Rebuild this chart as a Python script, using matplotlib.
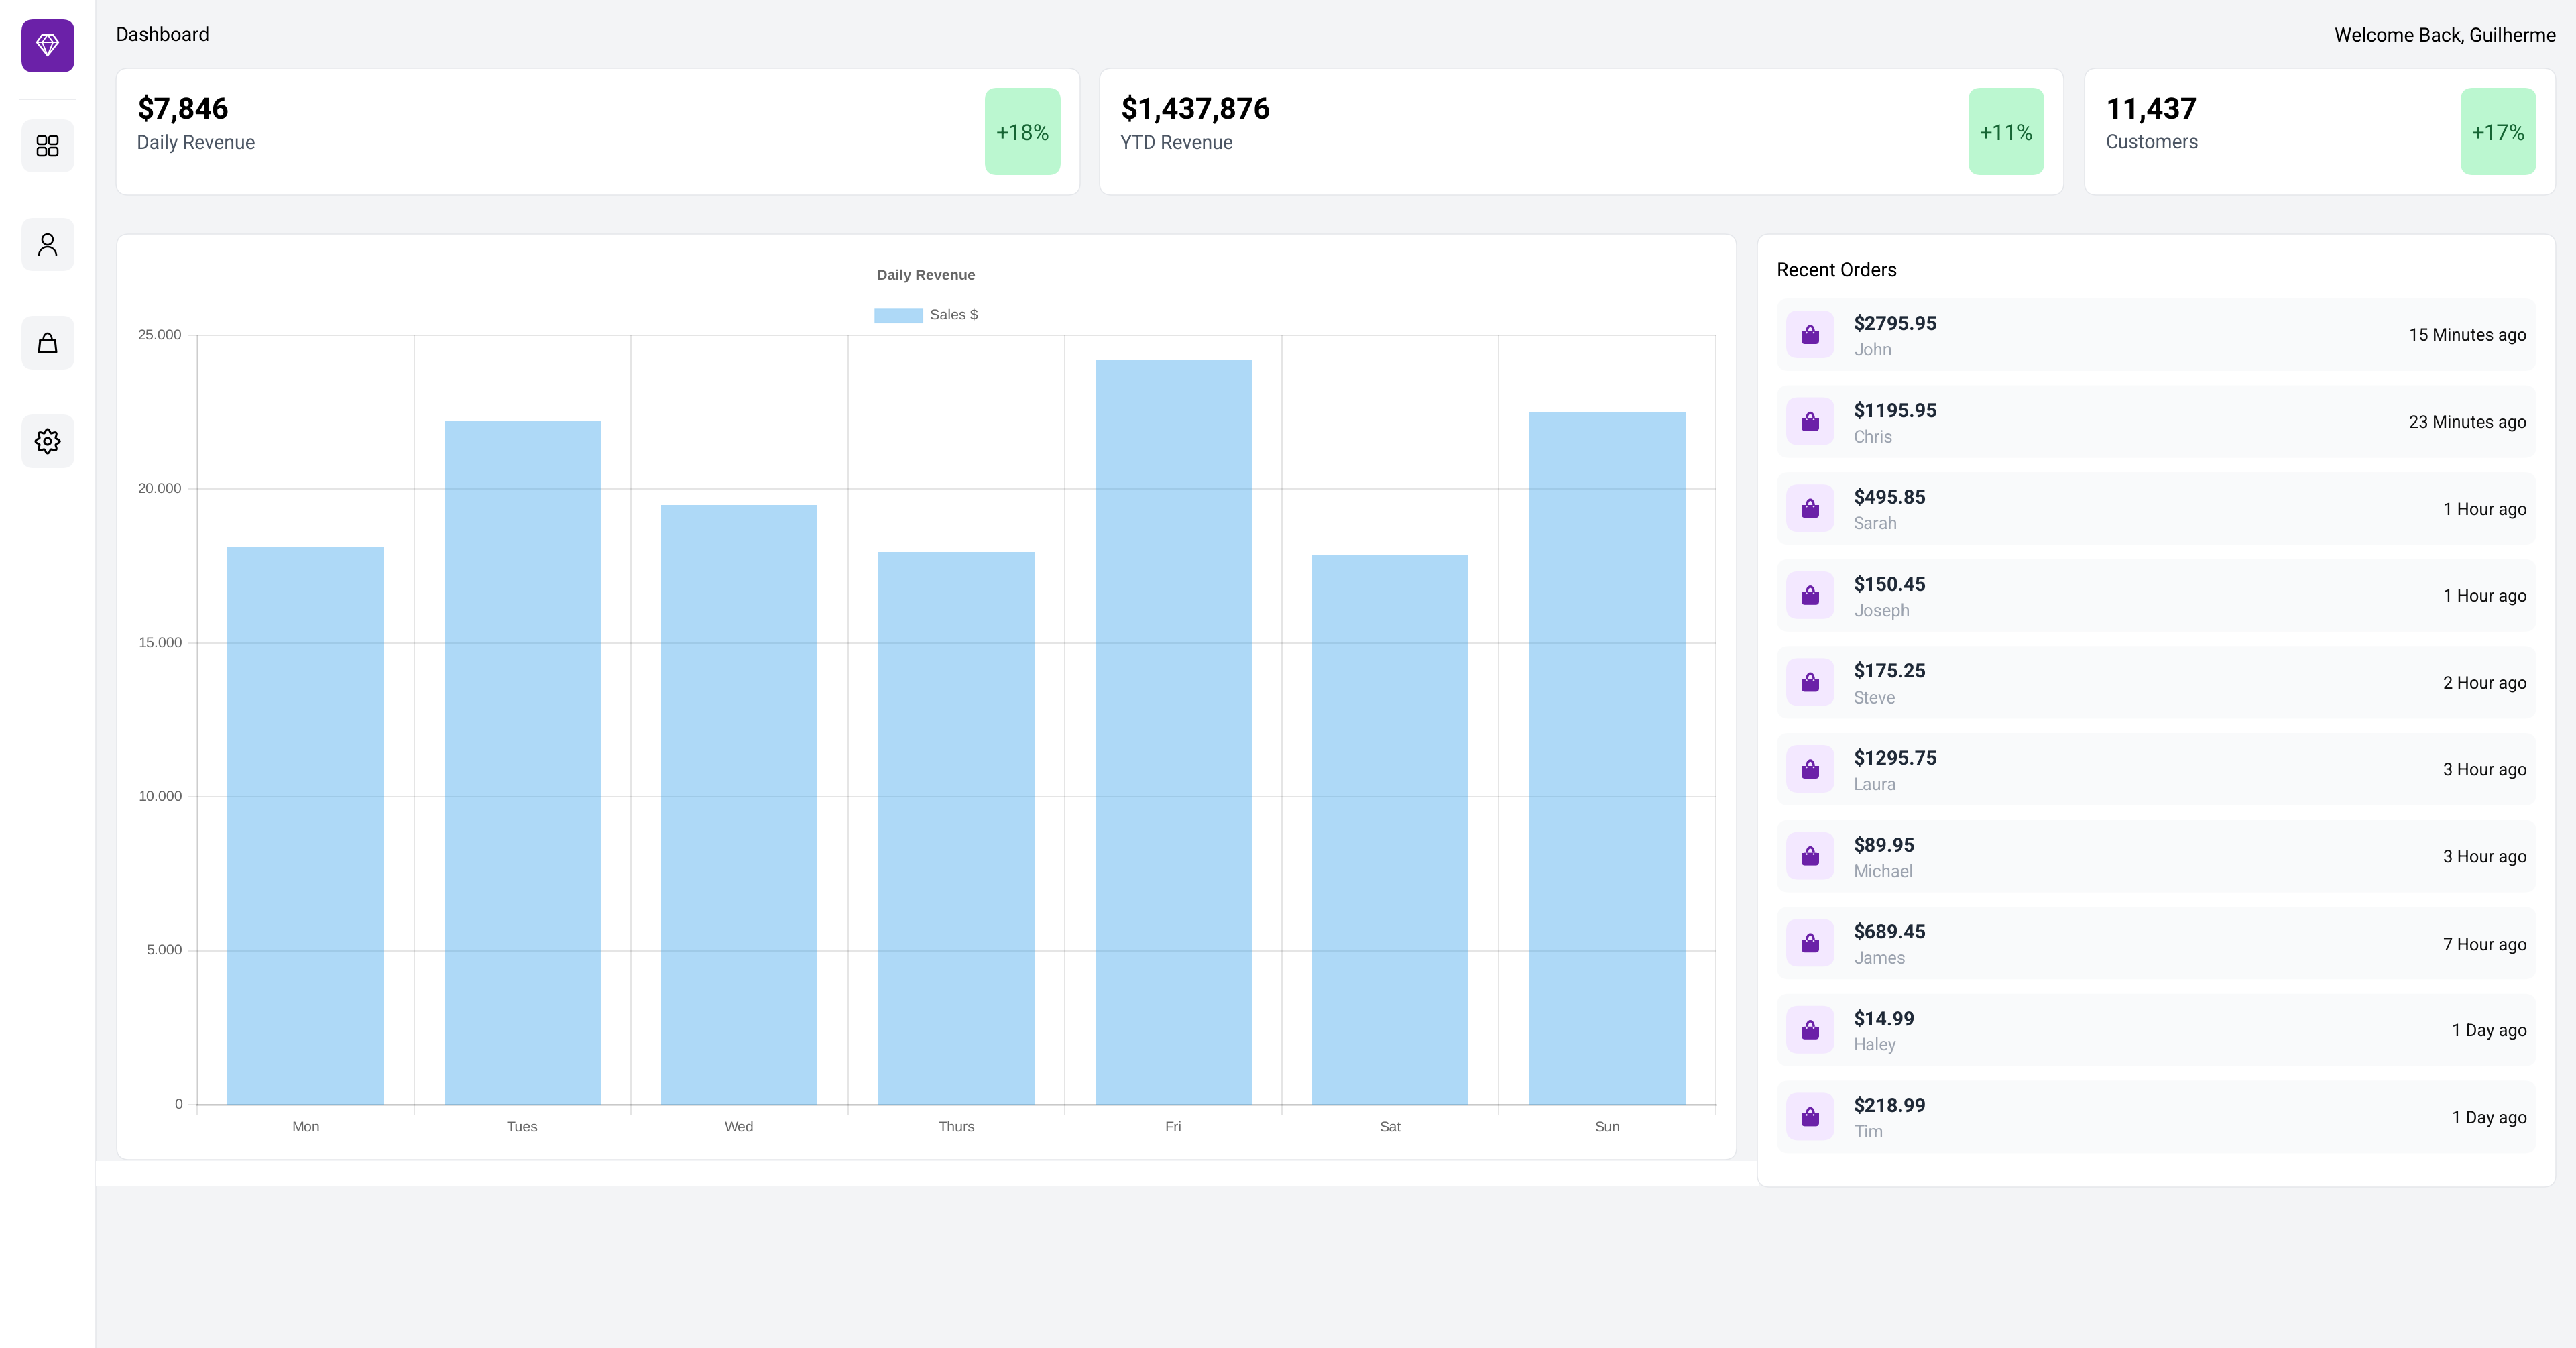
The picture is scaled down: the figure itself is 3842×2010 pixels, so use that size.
import numpy as np
import matplotlib
matplotlib.use('Agg')
import matplotlib.pyplot as plt
from matplotlib.patches import FancyBboxPatch, Rectangle, Circle, Arc
from matplotlib.transforms import ScaledTranslation

W, H = 3842, 2010

days = ['Mon', 'Tues', 'Wed', 'Thurs', 'Fri', 'Sat', 'Sun']
sales = [18130, 22220, 19490, 17950, 24190, 17850, 22490]
y_ticks = [0, 5000, 10000, 15000, 20000, 25000]
y_labels = ['0', '5.000', '10.000', '15.000', '20.000', '25.000']

card_values = ['$7,846', '$1,437,876', '11,437']
card_labels = ['Daily Revenue', 'YTD Revenue', 'Customers']
card_changes = ['+18%', '+11%', '+17%']

amounts = ['$2795.95', '$1195.95', '$495.85', '$150.45', '$175.25',
           '$1295.75', '$89.95', '$689.45', '$14.99', '$218.99']
names = ['John', 'Chris', 'Sarah', 'Joseph', 'Steve',
         'Laura', 'Michael', 'James', 'Haley', 'Tim']
times = ['15 Minutes ago', '23 Minutes ago', '1 Hour ago', '1 Hour ago', '2 Hour ago',
         '3 Hour ago', '3 Hour ago', '7 Hour ago', '1 Day ago', '1 Day ago']

UI_FONT = 'Roboto'
CHART_FONT = 'Liberation Sans'
PX = 0.72  # px to points at dpi 100
plt.rcParams['text.hinting'] = 'none'

fig = plt.figure(figsize=(W / 100, H / 100), dpi=100, facecolor='#f3f4f6')

# whole-page layer in pixel coordinates
bg = fig.add_axes([0, 0, 1, 1])
bg.set_xlim(0, W)
bg.set_ylim(H, 0)
bg.axis('off')


def box(x0, y0, x1, y1, r, fc, ec='none', lw=0, z=1):
    p = FancyBboxPatch((x0, y0), x1 - x0, y1 - y0, boxstyle=f'round,pad=0,rounding_size={r}',
                       fc=fc, ec=ec, lw=lw * PX, zorder=z)
    bg.add_patch(p)


def label(x, y, s, size, color='black', weight='normal', ha='left', va='baseline', font=UI_FONT):
    bg.text(x, y, s, fontsize=size * PX, color=color, fontweight=weight, ha=ha, va=va, family=font, zorder=5)


def stroke(xs, ys, color='black', lw=3, z=4):
    bg.plot(xs, ys, color=color, lw=lw * PX, solid_capstyle='round', solid_joinstyle='round', zorder=z)


# sidebar and the white strip under the chart
bg.add_patch(Rectangle((0, 0), 143, H, fc='white', ec='none', zorder=0.5))
bg.plot([143, 143], [0, H], color='#e5e7eb', lw=1.5 * PX, zorder=0.6)
bg.add_patch(Rectangle((143, 1731), 2480, 37, fc='white', ec='none', zorder=0.7))

box(32, 29, 111, 108, 18, '#6b21a8')
bg.plot([29, 113], [148, 148], color='#e5e7eb', lw=1.5 * PX, zorder=2)
for top, bottom in [(178, 257), (325, 404), (471, 551), (618, 698)]:
    box(32, top, 111, bottom, 18, '#f3f4f6')

# logo diamond
stroke([63, 79, 87, 71, 55, 63], [52, 52, 63, 83, 63, 52], 'white', 2.5)
stroke([55, 87], [63, 63], 'white', 2)
stroke([63, 71, 79], [63, 83, 63], 'white', 2)
stroke([63, 71, 79], [63, 52, 63], 'white', 2)

# dashboard icon
for x in (56, 73):
    for y in (203, 220):
        box(x, y, x + 13, y + 12, 3, 'none', 'black', 2.5, z=4)

# user icon
bg.add_patch(Circle((71, 357), 8, fc='none', ec='black', lw=2.5 * PX, zorder=4))
bg.add_patch(Arc((71, 381), 26, 26, theta1=180, theta2=360, ec='black', lw=2.5 * PX, zorder=4))

# orders icon
stroke([60, 82, 84, 58, 60], [507, 507, 525, 525, 507], 'black', 3)
bg.add_patch(Arc((71, 507), 13, 20, theta1=180, theta2=360, ec='black', lw=2.5 * PX, zorder=4))

# settings icon
ang = np.linspace(0, 2 * np.pi, 200)
gear = 15.5 + 2.5 * np.cos(8 * ang)
stroke(71 + gear * np.cos(ang), 658 + gear * np.sin(ang), 'black', 3)
bg.add_patch(Circle((71, 658), 5, fc='none', ec='black', lw=3 * PX, zorder=4))

label(173, 62, 'Dashboard', 29)
label(3813, 62, 'Welcome Back, Guilherme', 28.5, ha='right')

# stat cards
card_x = [(173, 1611), (1640, 3078), (3109, 3812)]
for (x0, x1), val, lab, chg in zip(card_x, card_values, card_labels, card_changes):
    box(x0, 102, x1, 291, 18, 'white', '#e5e7eb', 1.5)
    label(x0 + 31, 177, val, 44, weight='bold')
    label(x0 + 31, 222, lab, 28.5, color='#4b5563')
    box(x1 - 142, 131, x1 - 29, 261, 18, '#bbf7d0')
    label(x1 - 85.5, 210, chg, 33, color='#166534', ha='center')

# chart card
box(174, 349, 2590, 1729, 18, 'white', '#e5e7eb', 1.5)

label(1381.5, 411, 'Daily Revenue', 21.5, color='#666666', weight='bold', ha='center', va='center', font=CHART_FONT)
bg.add_patch(Rectangle((1304, 460), 72, 21, fc=(54 / 255, 162 / 255, 235 / 255, 0.4),
                       ec=(54 / 255, 162 / 255, 235 / 255, 0.1), lw=1, zorder=2))
label(1387, 471, 'Sales $', 21.5, color='#666666', va='center', font=CHART_FONT)

# recent orders panel
box(2621, 349, 3812, 1770, 18, 'white', '#e5e7eb', 1.5)
label(2650, 413, 'Recent Orders', 28.5)

for i, (amount, name, when) in enumerate(zip(amounts, names, times)):
    top = 445 + i * 129.6
    box(2650, top, 3783, top + 108, 18, '#f9fafb')
    box(2664, top + 18, 2736, top + 89, 18, '#f3e8ff', z=2)
    box(2687, top + 49, 2713, top + 68, 5, '#6b21a8', z=3)
    bg.add_patch(Rectangle((2687, top + 49), 26, 8, fc='#6b21a8', ec='none', zorder=3))
    bg.add_patch(Arc((2700, top + 49), 10, 16, theta1=180, theta2=360, ec='#6b21a8', lw=3.5 * PX, zorder=3))
    bg.add_patch(Circle((2694.5, top + 51), 1.3, fc='#f3e8ff', ec='none', zorder=4))
    bg.add_patch(Circle((2705, top + 51), 1.3, fc='#f3e8ff', ec='none', zorder=4))
    label(2765, top + 47, amount, 29, color='#1f2937', weight='bold')
    label(2765, top + 85, name, 25.5, color='#9ca3af')
    label(3769, top + 64, when, 25.5, color='#111111', ha='right')

# the bar chart itself
ax = fig.add_axes([294 / W, 1 - 1647 / H, 2265 / W, 1147 / H], facecolor='none')
pos = np.arange(len(days)) + 0.5
ax.bar(pos, sales, width=0.72, color=(54 / 255, 162 / 255, 235 / 255, 0.4), zorder=3)
ax.set_axisbelow(True)
ax.set_xlim(0, len(days))
ax.set_ylim(0, 25000)
ax.set_xticks(np.arange(len(days) + 1))
ax.set_xticklabels([])
ax.set_xticks(pos, minor=True)
ax.set_xticklabels(days, minor=True, family=CHART_FONT, fontsize=21.5 * PX, color='#666666')
ax.set_yticks(y_ticks)
ax.set_yticklabels(y_labels, family=CHART_FONT, fontsize=21.5 * PX, color='#666666')
ax.grid(True, which='major', color='black', alpha=0.1, lw=2 * PX)
ax.tick_params(axis='x', which='major', length=16 * PX, width=2 * PX, color=(0, 0, 0, 0.1))
ax.tick_params(axis='x', which='minor', length=0, pad=25 * PX)
ax.tick_params(axis='y', length=13 * PX, width=2 * PX, color=(0, 0, 0, 0.1), pad=9 * PX)
for side in ('top', 'right'):
    ax.spines[side].set_visible(False)
ax.spines['left'].set_color((0, 0, 0, 0.1))
ax.spines['bottom'].set_color((0, 0, 0, 0.12))
ax.spines['left'].set_linewidth(2 * PX)
ax.spines['bottom'].set_linewidth(3 * PX)

# y labels sit a little above their ticks in the original
up = ScaledTranslation(0, 2 / 100, fig.dpi_scale_trans)
for t in ax.get_yticklabels():
    t.set_transform(t.get_transform() + up)

fig.savefig('out.png', dpi=100, facecolor=fig.get_facecolor())
